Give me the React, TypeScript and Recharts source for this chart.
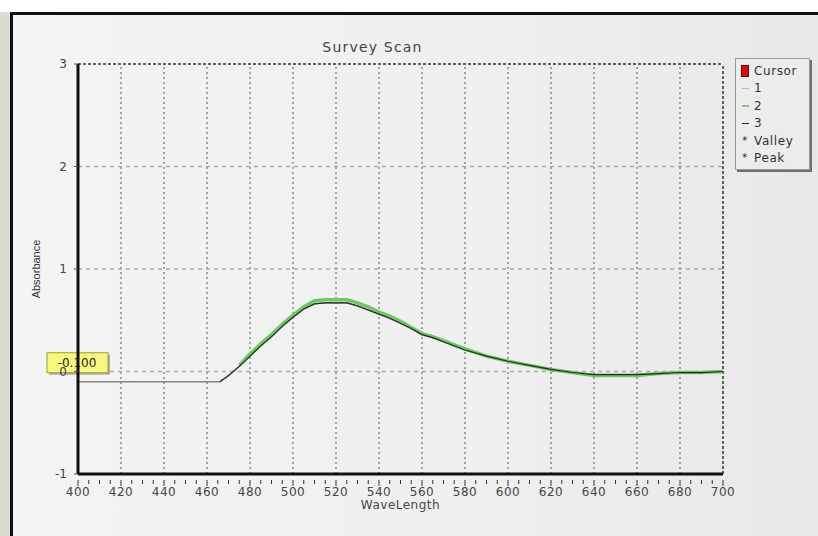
import React from "react";
import { LineChart, Line, XAxis, YAxis, ReferenceLine, Label } from "recharts";

document.body.style.margin = "0";

const waveLength = [
  400, 420, 440, 460, 466, 470, 475, 480, 485, 490, 495, 500, 505, 510, 515, 520, 525, 530, 535, 540,
  545, 550, 555, 560, 565, 570, 580, 590, 600, 610, 620, 630, 640, 650, 660, 670, 680, 690, 700,
];
const scan1 = [
  -0.1, -0.1, -0.1, -0.1, -0.1, -0.04, 0.05, 0.15, 0.25, 0.34, 0.44, 0.53, 0.61, 0.66, 0.67, 0.67, 0.67, 0.64, 0.6, 0.56,
  0.52, 0.47, 0.42, 0.36, 0.33, 0.29, 0.21, 0.15, 0.1, 0.06, 0.02, -0.01, -0.03, -0.03, -0.03, -0.02, -0.01, -0.01, 0,
];
const scan2 = [
  null, null, null, null, null, null, 0.06, 0.17, 0.27, 0.36, 0.46, 0.55, 0.63, 0.69, 0.7, 0.7, 0.7, 0.67, 0.63, 0.58,
  0.54, 0.49, 0.43, 0.37, 0.34, 0.3, 0.22, 0.15, 0.1, 0.06, 0.02, -0.01, -0.04, -0.04, -0.04, -0.02, -0.01, -0.01, 0,
];
const scan3 = [
  null, null, null, null, -0.1, -0.04, 0.05, 0.15, 0.25, 0.34, 0.44, 0.53, 0.61, 0.66, 0.67, 0.67, 0.67, 0.64, 0.6, 0.56,
  0.52, 0.47, 0.42, 0.36, 0.33, 0.29, 0.21, 0.15, 0.1, 0.06, 0.02, -0.01, -0.03, -0.03, -0.03, -0.02, -0.01, -0.01, 0,
];

const xMajor = [400, 420, 440, 460, 480, 500, 520, 540, 560, 580, 600, 620, 640, 660, 680, 700];
const xMinor = Array.from({ length: 61 }, (_, i) => 400 + i * 5);
const yTicks = [-1, 0, 1, 2, 3];
const cursorValue = -0.1;

const legendItems = [
  { name: "Cursor", kind: "box", color: "#d01010" },
  { name: "1", kind: "line", color: "#d8b0a8" },
  { name: "2", kind: "line", color: "#7cd070" },
  { name: "3", kind: "line", color: "#202020" },
  { name: "Valley", kind: "star", color: "#202020" },
  { name: "Peak", kind: "star", color: "#202020" },
];

const FONT = "'DejaVu Sans', Verdana, sans-serif";

const rows = waveLength.map((w, i) => ({ w, s1: scan1[i], s2: scan2[i], s3: scan3[i] }));

function XTick(props: any) {
  const { x, y, payload } = props;
  const major = payload.value % 20 === 0;
  return (
    <g>
      <line x1={x} x2={x} y1={y - 2} y2={y + (major ? 4 : 2)} stroke="#333" strokeWidth={1} />
      {major && (
        <text x={x} y={y + 14} textAnchor="middle" fontSize={12} fill="#444" fontFamily={FONT} letterSpacing={0.5}>
          {payload.value}
        </text>
      )}
    </g>
  );
}

function CursorBox(props: any) {
  const { viewBox } = props;
  const x = viewBox.x - 31;
  const y = viewBox.y - 29;
  return (
    <g>
      <rect x={x + 2} y={y + 2} width={61} height={20} fill="#b0b0a0" />
      <rect x={x} y={y} width={61} height={20} fill="#f8f880" stroke="#9a9a40" strokeWidth={1} />
      <text x={x + 30} y={y + 14} textAnchor="middle" fontSize={12} fill="#222" fontFamily={FONT}>
        -0.100
      </text>
    </g>
  );
}

function LegendBox() {
  return (
    <div
      style={{
        position: "absolute",
        left: 735,
        top: 58,
        width: 75,
        height: 112,
        background: "#ececec",
        border: "1px solid #9a9a9a",
        boxShadow: "2px 2px 0 #707070",
        fontFamily: FONT,
        fontSize: 12,
        letterSpacing: 0.6,
        color: "#333",
        padding: "3px 0 0 2px",
        boxSizing: "border-box",
      }}
    >
      {legendItems.map((it) => (
        <div key={it.name} style={{ display: "flex", alignItems: "center", height: 17.5 }}>
          <span style={{ width: 14, display: "inline-flex", justifyContent: "center", alignItems: "center" }}>
            {it.kind === "box" && (
              <span style={{ width: 6, height: 10, background: it.color, border: "1px solid #700" }} />
            )}
            {it.kind === "line" && <span style={{ width: 7, height: 1.5, background: it.color }} />}
            {it.kind === "star" && <span style={{ fontSize: 10, lineHeight: "10px", color: it.color }}>*</span>}
          </span>
          <span style={{ marginLeft: 2 }}>{it.name}</span>
        </div>
      ))}
    </div>
  );
}

export default function App() {
  return (
    <div style={{ position: "relative", width: 818, height: 536, background: "#fff", overflow: "hidden" }}>
      <div style={{ position: "absolute", left: 0, top: 12, width: 10, height: 524, background: "#dcdcd4" }} />
      <div
        style={{
          position: "absolute",
          left: 10,
          top: 12,
          width: 808,
          height: 524,
          borderTop: "3px solid #111",
          borderLeft: "3px solid #111",
          background: "linear-gradient(90deg, #f4f4f4 0%, #efefef 60%, #e8e8e8 100%)",
        }}
      />
      <div
        style={{
          position: "absolute",
          left: 0,
          width: 745,
          top: 39,
          textAlign: "center",
          fontFamily: FONT,
          fontSize: 14,
          letterSpacing: 1.2,
          color: "#444",
        }}
      >
        Survey Scan
      </div>
      <div style={{ position: "absolute", left: 0, top: 0 }}>
        <LineChart width={818} height={536} data={rows} margin={{ top: 64, right: 95, left: 48, bottom: 32 }}>
          {xMajor.slice(1, -1).map((v) => (
            <ReferenceLine key={`gx${v}`} x={v} stroke="#555" strokeDasharray="2 3" strokeWidth={1} />
          ))}
          {[0, 1, 2].map((v) => (
            <ReferenceLine key={`gy${v}`} y={v} stroke="#aaa" strokeDasharray="4 4" strokeWidth={1.5} />
          ))}
          <ReferenceLine y={3} stroke="#333" strokeDasharray="3 2" strokeWidth={1.5} />
          <ReferenceLine x={700} stroke="#333" strokeDasharray="3 2" strokeWidth={1.5} />
          <XAxis
            dataKey="w"
            type="number"
            domain={[400, 700]}
            ticks={xMinor}
            interval={0}
            height={30}
            axisLine={{ stroke: "#111", strokeWidth: 3 }}
            tickLine={false}
            tick={<XTick />}
          >
            <Label
              value="WaveLength"
              position="insideBottom"
              offset={-5}
              fontSize={12}
              fill="#444"
              fontFamily={FONT}
              letterSpacing={0.5}
            />
          </XAxis>
          <YAxis
            type="number"
            domain={[-1, 3]}
            ticks={yTicks}
            width={30}
            interval={0}
            axisLine={{ stroke: "#111", strokeWidth: 3 }}
            tickLine={{ stroke: "#555" }}
            tickSize={4}
            tickMargin={7}
            tick={{ fontSize: 12, fill: "#444", fontFamily: FONT }}
          >
            <Label
              value="Absorbance"
              angle={-90}
              position="insideLeft"
              offset={-12}
              style={{ textAnchor: "middle" }}
              fontSize={11}
              fill="#333"
              fontFamily="'Liberation Sans Narrow', 'Liberation Sans', sans-serif"
            />
          </YAxis>
          <Line dataKey="s1" stroke="#8a8480" strokeWidth={1.5} dot={false} isAnimationActive={false} connectNulls />
          <Line dataKey="s2" stroke="#6cc860" strokeWidth={3.5} dot={false} isAnimationActive={false} />
          <Line dataKey="s3" stroke="#2a2a2a" strokeWidth={1.2} dot={false} isAnimationActive={false} />
          <ReferenceLine y={cursorValue} stroke="none" label={<CursorBox />} />
        </LineChart>
      </div>
      <LegendBox />
    </div>
  );
}
